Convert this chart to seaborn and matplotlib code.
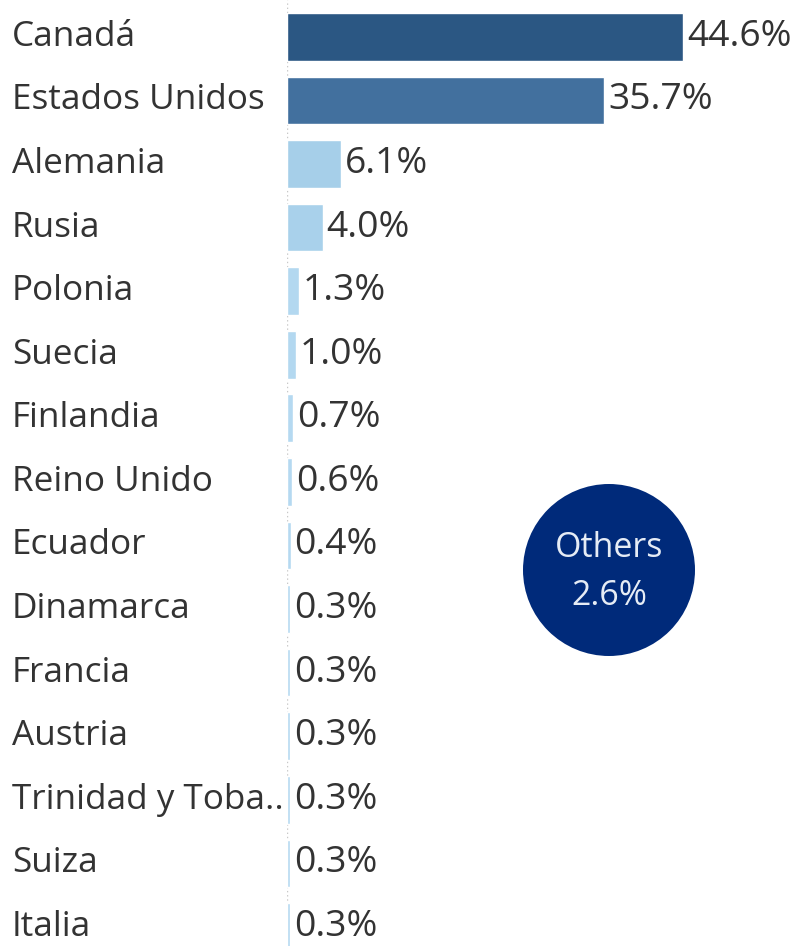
import matplotlib
matplotlib.use("Agg")
import matplotlib.pyplot as plt
import matplotlib.transforms as mtransforms
from matplotlib.patches import Ellipse
import pandas as pd
import seaborn as sns

countries = ["Canadá", "Estados Unidos", "Alemania", "Rusia", "Polonia", "Suecia",
             "Finlandia", "Reino Unido", "Ecuador", "Dinamarca", "Francia", "Austria",
             "Trinidad y Toba..", "Suiza", "Italia"]
shares = [44.6, 35.7, 6.1, 4.0, 1.3, 1.0, 0.7, 0.6, 0.4, 0.3, 0.3, 0.3, 0.3, 0.3, 0.3]
bar_colors = ["#2b5783", "#42709e", "#a6cfe9", "#a9d1eb", "#b3d8f0", "#b3d8f0",
              "#b5d9f1", "#b5d9f1", "#b5d9f1", "#b5d9f1", "#b5d9f1", "#b5d9f1",
              "#b5d9f1", "#b5d9f1", "#b5d9f1"]
others_label = "Others"
others_share = 2.6

df = pd.DataFrame({"country": countries, "share": shares})

sns.set_theme(style="white")
plt.rcParams["font.family"] = ["Open Sans", "DejaVu Sans"]

fig = plt.figure(figsize=(7.95, 9.46), dpi=100)
ax = fig.add_axes([287 / 795, 0, 508 / 795, 1])

ax.axvline(0, color="#c8c8c8", linestyle=(0, (1, 2)), linewidth=1, zorder=0)
sns.barplot(data=df, y="country", x="share", hue="country", orient="h",
            palette=dict(zip(countries, bar_colors)), legend=False,
            width=0.75, saturation=1, ax=ax, zorder=2)

ax.set_xlim(0, 57.2)
ax.set_ylim(14.30, -0.58)
ax.set_xlabel("")
ax.set_ylabel("")
ax.set_xticks([])
ax.set_yticks([])
for s in ax.spines.values():
    s.set_visible(False)

label_tf = mtransforms.blended_transform_factory(fig.transFigure, ax.transData)
for i, (c, v) in enumerate(zip(countries, shares)):
    ax.text(12 / 795, i, c, transform=label_tf, ha="left", va="center",
            fontsize=25.3, color="#333333")
    ax.text(v + 0.45, i, f"{v:.1f}%", ha="left", va="center",
            fontsize=26.8, color="#333333")

circle = Ellipse((609 / 795, 1 - 570 / 946), 172 / 795, 172 / 946,
                 transform=fig.transFigure, facecolor="#002a7a", edgecolor="none")
fig.patches.append(circle)
fig.text(609 / 795, 1 - 548 / 946, others_label, ha="center", va="center",
         fontsize=24.5, color="#e6ecf5")
fig.text(609 / 795, 1 - 596 / 946, f"{others_share:.1f}%", ha="center", va="center",
         fontsize=24.5, color="#e6ecf5")

fig.savefig("out.png", dpi=100)
